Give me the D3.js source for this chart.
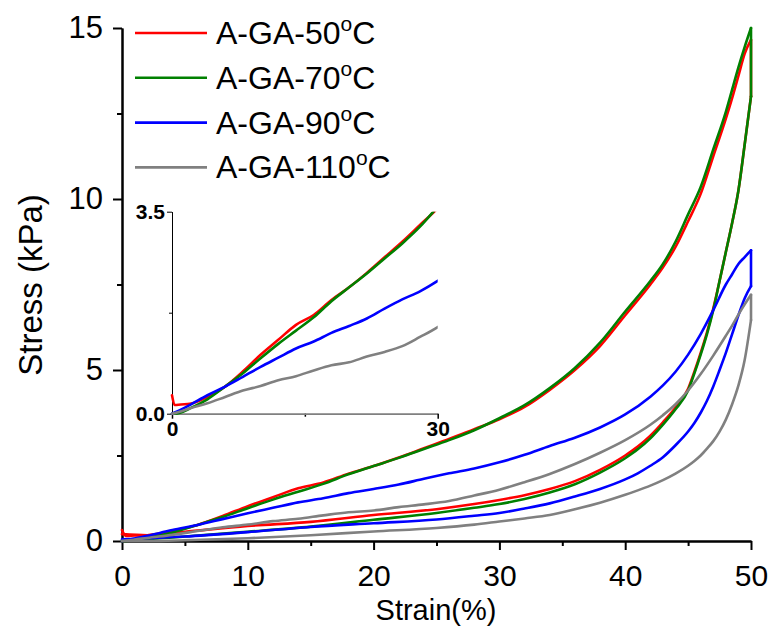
<!DOCTYPE html>
<html>
<head>
<meta charset="utf-8">
<script src="https://cdn.jsdelivr.net/npm/d3@7/dist/d3.min.js"></script>
<style>
  body { margin: 0; background: #fff; }
  text { font-family: Arial, "Liberation Sans", sans-serif; }
</style>
</head>
<body>
<div id="chart"></div>
<script>
// strain grids (%) shared by all series
const loadStrain = [0, 0.3, 1, 2, 4, 6, 8, 10, 12, 14, 16, 18, 20, 22, 24, 26, 28, 30, 32, 34, 36, 38, 40, 42, 43, 44, 45, 46, 47, 48, 48.5, 49, 49.5, 50];
const unloadStrain = [50, 49.5, 49, 48.5, 48, 47.5, 47, 46.5, 46, 45.5, 45, 44, 43, 42, 41, 40, 38, 36, 34, 32, 30, 28, 25, 20, 15, 10, 5, 2, 0];

// stress (kPa)
const load50 = [0.32, 0.15, 0.16, 0.17, 0.29, 0.47, 0.73, 1.02, 1.28, 1.54, 1.71, 1.97, 2.19, 2.44, 2.71, 2.98, 3.27, 3.56, 3.92, 4.42, 5.0, 5.7, 6.6, 7.5, 8.0, 8.6, 9.35, 10.15, 11.25, 12.35, 12.95, 13.6, 14.25, 14.65];
const unload50 = [13.0, 11.6, 10.25, 9.3, 8.45, 7.6, 6.8, 6.1, 5.5, 4.95, 4.45, 3.9, 3.47, 3.08, 2.76, 2.5, 2.08, 1.75, 1.52, 1.34, 1.2, 1.08, 0.93, 0.76, 0.56, 0.44, 0.27, 0.17, 0.2];

const load70 = [0, 0, 0.02, 0.09, 0.25, 0.47, 0.7, 0.96, 1.21, 1.44, 1.67, 1.95, 2.19, 2.43, 2.69, 2.95, 3.24, 3.59, 3.97, 4.47, 5.06, 5.8, 6.71, 7.6, 8.1, 8.75, 9.55, 10.35, 11.45, 12.55, 13.2, 13.85, 14.45, 15.0];
const unload70 = [13.0, 11.6, 10.25, 9.3, 8.45, 7.6, 6.75, 6.05, 5.45, 4.9, 4.4, 3.85, 3.4, 3.0, 2.68, 2.42, 2.0, 1.66, 1.42, 1.23, 1.08, 0.97, 0.82, 0.62, 0.42, 0.27, 0.13, 0.06, 0.03];

const load90 = [0, 0.02, 0.07, 0.15, 0.32, 0.47, 0.64, 0.81, 0.97, 1.13, 1.25, 1.4, 1.52, 1.65, 1.82, 1.98, 2.12, 2.3, 2.52, 2.78, 3.02, 3.32, 3.7, 4.22, 4.55, 4.95, 5.45, 6.05, 6.75, 7.5, 7.8, 8.1, 8.3, 8.5];
const unload90 = [7.45, 7.1, 6.6, 6.05, 5.5, 5.0, 4.52, 4.1, 3.75, 3.45, 3.2, 2.8, 2.45, 2.2, 1.98, 1.8, 1.52, 1.3, 1.1, 0.95, 0.82, 0.74, 0.63, 0.52, 0.41, 0.26, 0.13, 0.08, 0.05];

const load110 = [0, 0.01, 0.04, 0.09, 0.18, 0.29, 0.4, 0.48, 0.58, 0.65, 0.75, 0.84, 0.89, 0.99, 1.07, 1.17, 1.33, 1.5, 1.72, 1.96, 2.25, 2.58, 2.95, 3.4, 3.68, 4.0, 4.4, 4.88, 5.42, 6.0, 6.3, 6.62, 6.92, 7.2];
const unload110 = [6.46, 5.3, 4.55, 4.0, 3.55, 3.2, 2.92, 2.7, 2.5, 2.34, 2.2, 1.97, 1.78, 1.62, 1.48, 1.35, 1.12, 0.93, 0.76, 0.66, 0.57, 0.48, 0.38, 0.28, 0.17, 0.08, 0.02, 0, 0];

const seriesTemps = ["50", "70", "90", "110"];
const seriesColors = ["#ff0000", "#008000", "#0000ff", "#808080"];
const seriesLoad = [load50, load70, load90, load110];
const seriesUnload = [unload50, unload70, unload90, unload110];

const xTicks = [0, 10, 20, 30, 40, 50];
const xMinor = [5, 15, 25, 35, 45];
const yTicks = [0, 5, 10, 15];
const yMinor = [2.5, 7.5, 12.5];
const insetXTicks = [0, 30];
const insetXMinor = [15];
const insetYTicks = [0, 3.5];
const insetYMinor = [1.75];

const width = 770, height = 626;
const svg = d3.select("#chart").append("svg")
    .attr("width", width)
    .attr("height", height);

const x = d3.scaleLinear().domain([0, 50]).range([122, 751]);
const y = d3.scaleLinear().domain([0, 15]).range([541, 28]);

const FONT = "Arial, 'Liberation Sans', sans-serif";

// main axes
function styleAxis(g, w, col) {
    g.select(".domain").attr("stroke", col || "#000").attr("stroke-width", w);
    g.selectAll(".tick line").attr("stroke", "#000").attr("stroke-width", w);
}

svg.append("g")
    .attr("transform", "translate(0,541)")
    .call(d3.axisBottom(x).tickValues(xMinor).tickSize(5).tickSizeOuter(0).tickFormat(""))
    .call(g => styleAxis(g, 2));
svg.append("g")
    .attr("transform", "translate(0,541)")
    .call(d3.axisBottom(x).tickValues(xTicks).tickSize(9).tickSizeOuter(0).tickPadding(15))
    .call(g => styleAxis(g, 2))
    .call(g => g.selectAll("text").attr("font-size", 30).attr("fill", "#000").attr("font-family", FONT));

svg.append("g")
    .attr("transform", "translate(122,0)")
    .call(d3.axisLeft(y).tickValues(yMinor).tickSize(5).tickSizeOuter(0).tickFormat(""))
    .call(g => styleAxis(g, 2));
svg.append("g")
    .attr("transform", "translate(122,0)")
    .call(d3.axisLeft(y).tickValues(yTicks).tickSize(9).tickSizeOuter(0).tickPadding(10))
    .call(g => styleAxis(g, 2))
    .call(g => g.selectAll("text").attr("font-size", 31).attr("fill", "#000").attr("font-family", FONT));

// axis titles
svg.append("text")
    .attr("x", 436)
    .attr("y", 620)
    .attr("text-anchor", "middle")
    .attr("font-size", 29)
    .text("Strain(%)");
svg.append("text")
    .attr("transform", "translate(42,285) rotate(-90)")
    .attr("text-anchor", "middle")
    .attr("font-size", 33)
    .text("Stress (kPa)");

// curves
const lineMono = (sx, sy) => d3.line().x(d => sx(d[0])).y(d => sy(d[1])).curve(d3.curveMonotoneX);
const lineLin = (sx, sy) => d3.line().x(d => sx(d[0])).y(d => sy(d[1]));

function drawLoops(g, sx, sy, loadOnly, width) {
    seriesLoad.forEach((ld, i) => {
        const loadPts = loadStrain.map((s, j) => [s, ld[j]]);
        const grp = g.append("g")
            .attr("fill", "none")
            .attr("stroke", seriesColors[i])
            .attr("stroke-width", width)
            .attr("stroke-linejoin", "round")
            .attr("stroke-linecap", "round");
        grp.append("path").attr("d", lineMono(sx, sy)(loadPts));
        if (loadOnly) return;
        const unPts = unloadStrain.map((s, j) => [s, seriesUnload[i][j]]).reverse();
        grp.append("path").attr("d", lineLin(sx, sy)([loadPts[loadPts.length - 1], unPts[unPts.length - 1]]));
        grp.append("path").attr("d", lineMono(sx, sy)(unPts));
    });
}

drawLoops(svg.append("g"), x, y, false, 2.6);

// inset
const xi = d3.scaleLinear().domain([0, 30]).range([172, 437.7]);
const yi = d3.scaleLinear().domain([0, 3.5]).range([413.7, 211.7]);

svg.append("clipPath").attr("id", "insetClip")
    .append("rect")
    .attr("x", 170).attr("y", 211.7)
    .attr("width", 437.7 - 170).attr("height", 413.7 - 211.7 + 4);

const boldFont = g => g.selectAll("text")
    .attr("font-size", 21).attr("font-weight", "bold").attr("fill", "#000")
    .attr("font-family", FONT);

svg.append("g")
    .attr("transform", "translate(0,413.7)")
    .call(d3.axisBottom(xi).tickValues(insetXMinor).tickSize(3).tickSizeOuter(0).tickFormat(""))
    .call(g => styleAxis(g, 1.5, "#808080"));
svg.append("g")
    .attr("transform", "translate(0,413.7)")
    .call(d3.axisBottom(xi).tickValues(insetXTicks).tickSize(5).tickSizeOuter(0).tickPadding(2))
    .call(g => styleAxis(g, 1.5, "#808080"))
    .call(boldFont);
svg.append("g")
    .attr("transform", "translate(172,0)")
    .call(d3.axisLeft(yi).tickValues(insetYMinor).tickSize(3).tickSizeOuter(0).tickFormat(""))
    .call(g => styleAxis(g, 1));
svg.append("g")
    .attr("transform", "translate(172,0)")
    .call(d3.axisLeft(yi).tickValues(insetYTicks).tickSize(5).tickSizeOuter(0).tickPadding(2).tickFormat(d3.format(".1f")))
    .call(g => styleAxis(g, 1))
    .call(boldFont);

drawLoops(svg.append("g").attr("clip-path", "url(#insetClip)"), xi, yi, true, 2.6);

// legend
const legend = svg.append("g");
seriesTemps.forEach((t, i) => {
    const ly = 33 + i * 44.8;
    legend.append("line")
        .attr("x1", 135).attr("x2", 207)
        .attr("y1", ly).attr("y2", ly)
        .attr("stroke", seriesColors[i])
        .attr("stroke-width", 2.6);
    const txt = legend.append("text")
        .attr("x", 216)
        .attr("y", ly + 11)
        .attr("font-size", 32);
    txt.append("tspan").text("A-GA-" + t);
    txt.append("tspan").attr("font-size", 21).attr("dy", -13).text("o");
    txt.append("tspan").attr("dy", 13).text("C");
});
</script>
</body>
</html>
